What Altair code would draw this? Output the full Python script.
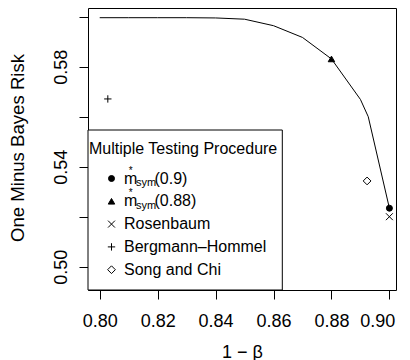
import altair as alt
import pandas as pd

# ---- data ----
curve_x = [0.80, 0.81, 0.82, 0.83, 0.84, 0.85, 0.86, 0.87, 0.88, 0.89, 0.8927, 0.90]
curve_y = [0.5996, 0.5996, 0.5996, 0.5996, 0.5995, 0.5990, 0.5964, 0.5917, 0.5831, 0.5669, 0.5600, 0.5234]

procedures = ["msym(0.9)", "msym(0.88)", "Rosenbaum", "Bergmann-Hommel", "Song and Chi"]
proc_x = [0.900, 0.880, 0.900, 0.8028, 0.8923]
proc_y = [0.5234, 0.5831, 0.5200, 0.5671, 0.5343]

x_ticks = [0.80, 0.82, 0.84, 0.86, 0.88, 0.90]
y_ticks = [0.50, 0.52, 0.54, 0.56, 0.58, 0.60]
y_labeled = ["0.50", "0.54", "0.58"]

legend_title = "Multiple Testing Procedure"
legend_main = ["m", "m", "Rosenbaum", "Bergmann\u2013Hommel", "Song and Chi"]
legend_sup = ["*", "*", "", "", ""]
legend_sub = ["sym", "sym", "", "", ""]
legend_after = ["(0.9)", "(0.88)", "", "", ""]

x_title = "1 \u2212 \u03b2"
y_title = "One Minus Bayes Risk"

# ---- styling ----
FONT = "Liberation Sans"
shapes = ["circle", "triangle-up", "M-1,-1L1,1M-1,1L1,-1", "M-1,0L1,0M0,-1L0,1", "diamond"]
fills = ["black", "black", "transparent", "transparent", "transparent"]
sizes = [36, 60, 56, 90, 110]

W, H = 308, 282
x_dom = [0.79596, 0.90228]
y_dom = [0.49068, 0.60348]

xs = alt.Scale(domain=x_dom, zero=False, nice=False)
ys = alt.Scale(domain=y_dom, zero=False, nice=False)

shape_enc = alt.Shape("proc:N", scale=alt.Scale(domain=procedures, range=shapes), legend=None)
fill_enc = alt.Fill("proc:N", scale=alt.Scale(domain=procedures, range=fills), legend=None)
size_enc = alt.Size("proc:N", scale=alt.Scale(domain=procedures, range=sizes), legend=None)

curve_df = pd.DataFrame({"x": curve_x, "y": curve_y})
proc_df = pd.DataFrame({"proc": procedures, "x": proc_x, "y": proc_y})

x_axis = alt.Axis(
    values=x_ticks, format=".2f", grid=False, domain=False,
    tickSize=9, tickColor="black", tickWidth=1,
    labelFont=FONT, labelFontSize=18, labelColor="black",
    labelPadding=27, labelBaseline="alphabetic", labelFlush=8, labelFlushOffset=5.5,
    labelOverlap=False,
    title=x_title, titleFont=FONT, titleFontSize=18, titleFontWeight="normal",
    titleColor="black", titleX=W / 2, titleY=67, titleBaseline="alphabetic", titleAlign="center",
)
y_axis = alt.Axis(
    values=y_ticks, format=".2f", grid=False, domain=False,
    labelExpr="indexof(" + str(y_labeled) + ", datum.label) >= 0 ? datum.label : ''",
    tickSize=9, tickColor="black", tickWidth=1,
    labelFont=FONT, labelFontSize=18, labelColor="black",
    labelAngle=270, labelAlign="center", labelBaseline="alphabetic",
    labelPadding=13, labelFlush=False, labelOverlap=False,
    title=y_title, titleFont=FONT, titleFontSize=18.6, titleFontWeight="normal",
    titleColor="black", titleAngle=270, titleX=-65, titleY=139.5,
    titleBaseline="alphabetic", titleAlign="center",
)

line = alt.Chart(curve_df).mark_line(color="black", strokeWidth=1).encode(
    x=alt.X("x:Q", scale=xs, axis=x_axis),
    y=alt.Y("y:Q", scale=ys, axis=y_axis),
)

points = alt.Chart(proc_df).mark_point(stroke="black", strokeWidth=1, opacity=1).encode(
    x=alt.X("x:Q", scale=xs),
    y=alt.Y("y:Q", scale=ys),
    shape=shape_enc, fill=fill_enc, size=size_enc,
)

one = pd.DataFrame({"k": [0]})
layers = [line, points]

# legend box
layers.append(
    alt.Chart(one).mark_rect(fill="white", stroke="black", strokeWidth=1).encode(
        x=alt.value(0), x2=alt.value(194.3), y=alt.value(122), y2=alt.value(H)
    )
)
layers.append(
    alt.Chart(one).mark_text(align="left", baseline="alphabetic", font=FONT, fontSize=16, color="black").encode(
        x=alt.value(1), y=alt.value(145.5), text=alt.value(legend_title)
    )
)

row0, step = 175.5, 22.8
for i, p in enumerate(procedures):
    base = row0 + step * i
    sym_df = pd.DataFrame({"proc": [p]})
    layers.append(
        alt.Chart(sym_df).mark_point(stroke="black", strokeWidth=1, opacity=1).encode(
            x=alt.value(23.5), y=alt.value(base - 5),
            shape=shape_enc, fill=fill_enc, size=size_enc,
        )
    )
    layers.append(
        alt.Chart(one).mark_text(align="left", baseline="alphabetic", font=FONT, fontSize=16, color="black").encode(
            x=alt.value(36), y=alt.value(base), text=alt.value(legend_main[i])
        )
    )
    if legend_sub[i]:
        layers.append(
            alt.Chart(one).mark_text(align="left", baseline="alphabetic", font=FONT, fontSize=11, color="black").encode(
                x=alt.value(48), y=alt.value(base + 2.5), text=alt.value(legend_sub[i])
            )
        )
        layers.append(
            alt.Chart(one).mark_text(align="center", baseline="alphabetic", font=FONT, fontSize=10, color="black").encode(
                x=alt.value(42.7), y=alt.value(base - 10), text=alt.value(legend_sup[i])
            )
        )
        layers.append(
            alt.Chart(one).mark_text(align="left", baseline="alphabetic", font=FONT, fontSize=16, color="black").encode(
                x=alt.value(66.5), y=alt.value(base), text=alt.value(legend_after[i])
            )
        )

chart = alt.layer(*layers).properties(
    width=W, height=H,
    autosize=alt.AutoSizeParams(type="none"),
    padding={"left": 80, "top": 0, "right": 6, "bottom": 70},
).configure_view(stroke="black", strokeWidth=1)

chart.save("out.html", embed_options={"renderer": "svg", "actions": False})
